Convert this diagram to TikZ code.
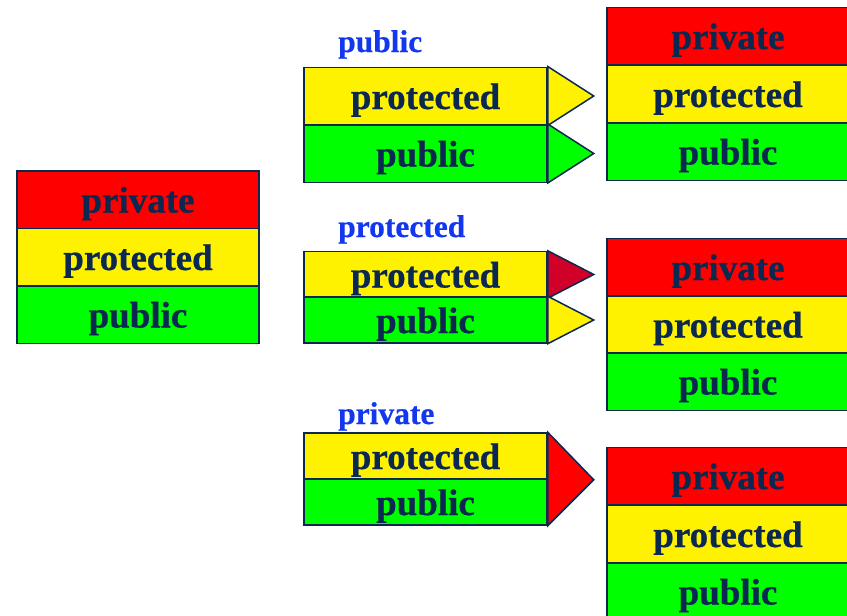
\documentclass[tikz,border=0pt]{standalone}
\usepackage{fontspec}
\setmainfont{Liberation Serif}[BoldFeatures={FakeBold=0.6}]
\usetikzlibrary{calc}
\definecolor{ink}{RGB}{10,40,80}
\definecolor{lblue}{RGB}{18,55,238}
\definecolor{crimson}{RGB}{208,0,40}
\begin{document}
\begin{tikzpicture}[x=1pt,y=-1pt,
  cell/.style={draw=ink, line width=1.5pt, minimum width=242, inner sep=0pt,
    font=\fontsize{37}{37}\selectfont\bfseries, text=ink,
    text height=26, text depth=0pt},
  tall/.style={cell, minimum height=57.5},
  short/.style={cell, minimum height=46},
  tag/.style={anchor=base west, inner sep=0pt, text=lblue,
    font=\fontsize{31.5}{31.5}\selectfont\bfseries},
  tip/.style={draw=ink, line width=1.5pt, line join=miter}]
\useasboundingbox (0,0) rectangle (847,616);
\clip (0,0) rectangle (847,616);

% base class
\node[tall, fill=red]    (b1) at (138,199.5) {private};
\node[tall, fill=yellow] (b2) at (138,257)   {protected};
\node[tall, fill=green]  (b3) at (138,314.5) {public};

% public inheritance
\node[tag] (l1) at (338,52) {public};
\node[tall, fill=yellow, minimum width=243] (p1) at (425.5,96)    {protected};
\node[tall, fill=green,  minimum width=243] (p2) at (425.5,153.5) {public};
\draw[tip, fill=yellow] (p1.north east) -- ($(p1.east)+(46,0)$) -- (p1.south east) -- cycle;
\draw[tip, fill=green]  (p2.north east) -- ($(p2.east)+(46,0)$) -- (p2.south east) -- cycle;

% protected inheritance
\node[tag] (l2) at (338,237) {protected};
\node[short, fill=yellow, minimum width=243] (q1) at (425.5,274.5) {protected};
\node[short, fill=green,  minimum width=243] (q2) at (425.5,320)   {public};
\draw[tip, fill=crimson] (q1.north east) -- ($(q1.east)+(46,0)$) -- (q1.south east) -- cycle;
\draw[tip, fill=yellow]  (q2.north east) -- ($(q2.east)+(46,0)$) -- (q2.south east) -- cycle;

% private inheritance
\node[tag] (l3) at (338,424) {private};
\node[short, fill=yellow, minimum width=243] (r1) at (425.5,456) {protected};
\node[short, fill=green,  minimum width=243] (r2) at (425.5,502) {public};
\draw[tip, fill=red] (r1.north east) -- ($(r1.south east)+(46,0)$)
  -- (r2.south east) -- cycle;

% resulting access in the derived classes
\node[tall, fill=red]    (a1) at (728,36)    {private};
\node[tall, fill=yellow] (a2) at (728,94)    {protected};
\node[tall, fill=green]  (a3) at (728,151.5) {public};

\node[tall, fill=red]    (c1) at (728,267)   {private};
\node[tall, fill=yellow] (c2) at (728,324.5) {protected};
\node[tall, fill=green]  (c3) at (728,381.5) {public};

\node[tall, fill=red]    (d1) at (728,476)   {private};
\node[tall, fill=yellow] (d2) at (728,534)   {protected};
\node[tall, fill=green]  (d3) at (728,591.5) {public};
\end{tikzpicture}
\end{document}
